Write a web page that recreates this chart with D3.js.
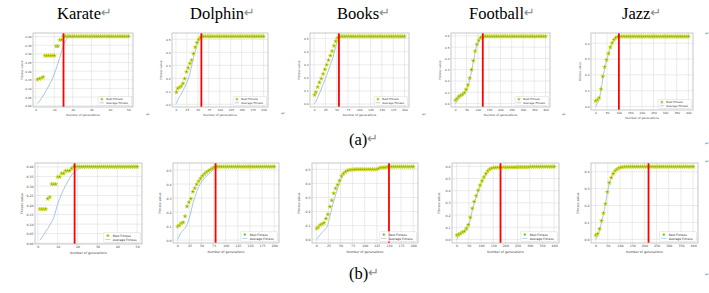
<!DOCTYPE html>
<html>
<head>
<meta charset="utf-8">
<script src="https://cdn.jsdelivr.net/npm/d3@7"></script>
<style>
body{margin:0;background:#fff}
</style>
</head>
<body>
<svg id="fig" width="709" height="293"></svg>
<script>
// generation numbers sampled for the markers
var gen50 = [1,2,3,4,5,6,7,8,9,10,11,12,13,14,15,16,17,18,19,20,21,22,23,24,25,26,27,28,29,30,
  31,32,33,34,35,36,37,38,39,40,41,42,43,44,45,46,47,48,49,50];
var gen200 = [1,4,8,12,16,20,24,28,32,36,40,44,48,52,56,60,64,68,72,76,80,84,88,92,96,100,
  104,108,112,116,120,124,128,132,136,140,144,148,152,156,160,164,168,172,176,180,184,188,192,196,200];
var gen400 = [1,8,16,24,32,40,48,56,64,72,80,88,96,104,112,120,128,136,144,152,160,168,176,184,192,200,
  208,216,224,232,240,248,256,264,272,280,288,296,304,312,320,328,336,344,352,360,368,376,384,392,400];

var titles = ["Karate", "Dolphin", "Books", "Football", "Jazz"];

// tick labels
var ticks50 = [0,10,20,30,40,50];
var ticks200 = [0,25,50,75,100,125,150,175,200];
var ticks400 = [0,50,100,150,200,250,300,350,400];
var karateTicksY = [0,0.05,0.10,0.15,0.20,0.25,0.30,0.35,0.40];
var dolphinTicksY = [0,0.1,0.2,0.3,0.4,0.5];
var booksTicksY = [0,0.1,0.2,0.3,0.4,0.5];
var footballTicksY = [0,0.1,0.2,0.3,0.4,0.5,0.6];
var jazzTicksY = [0,0.1,0.2,0.3,0.4];

// (a) row
var karateABest = [0.152,0.156,0.160,0.166,0.290,0.290,0.290,0.290,0.290,0.290,
  0.345,0.345,0.381,0.381,0.4013,0.4013,0.4013,0.4013,0.4013,0.4013,
  0.4013,0.4013,0.4013,0.4013,0.4013,0.4013,0.4013,0.4013,0.4013,0.4013,
  0.4013,0.4013,0.4013,0.4013,0.4013,0.4013,0.4013,0.4013,0.4013,0.4013,
  0.4013,0.4013,0.4013,0.4013,0.4013,0.4013,0.4013,0.4013,0.4013,0.4013];
var karateAAvg = [0.012,0.025,0.040,0.058,0.076,0.095,0.114,0.134,0.157,0.183,
  0.212,0.245,0.279,0.316,0.350,0.375,0.390,0.397,0.400,0.401,
  0.4013,0.4013,0.4013,0.4013,0.4013,0.4013,0.4013,0.4013,0.4013,0.4013,
  0.4013,0.4013,0.4013,0.4013,0.4013,0.4013,0.4013,0.4013,0.4013,0.4013,
  0.4013,0.4013,0.4013,0.4013,0.4013,0.4013,0.4013,0.4013,0.4013,0.4013];
var karateAStop = 15;

var dolphinABest = [0.093,0.122,0.130,0.140,0.160,0.198,0.250,0.280,0.315,0.340,
  0.390,0.440,0.475,0.500,0.515,0.522,0.5232,0.5232,0.5232,0.5232,
  0.5232,0.5232,0.5232,0.5232,0.5232,0.5232,0.5232,0.5232,0.5232,0.5232,
  0.5232,0.5232,0.5232,0.5232,0.5232,0.5232,0.5232,0.5232,0.5232,0.5232,
  0.5232,0.5232,0.5232,0.5232,0.5232,0.5232,0.5232,0.5232,0.5232,0.5232,
  0.5232];
var dolphinAAvg = [0.005,0.030,0.058,0.080,0.105,0.130,0.160,0.195,0.240,0.300,
  0.360,0.410,0.455,0.490,0.508,0.517,0.521,0.523,0.5232,0.5232,
  0.5232,0.5232,0.5232,0.5232,0.5232,0.5232,0.5232,0.5232,0.5232,0.5232,
  0.5232,0.5232,0.5232,0.5232,0.5232,0.5232,0.5232,0.5232,0.5232,0.5232,
  0.5232,0.5232,0.5232,0.5232,0.5232,0.5232,0.5232,0.5232,0.5232,0.5232,
  0.5232];
var dolphinAStop = 58;

var booksABest = [0.070,0.090,0.130,0.165,0.195,0.230,0.265,0.300,0.335,0.370,
  0.405,0.445,0.480,0.505,0.516,0.5175,0.5175,0.5175,0.5175,0.5175,
  0.5175,0.5175,0.5175,0.5175,0.5175,0.5175,0.5175,0.5175,0.5175,0.5175,
  0.5175,0.5175,0.5175,0.5175,0.5175,0.5175,0.5175,0.5175,0.5175,0.5175,
  0.5175,0.5175,0.5175,0.5175,0.5175,0.5175,0.5175,0.5175,0.5175,0.5175,
  0.5175];
var booksAAvg = [0.003,0.020,0.050,0.080,0.115,0.150,0.185,0.220,0.260,0.300,
  0.335,0.385,0.440,0.485,0.508,0.515,0.5175,0.5175,0.5175,0.5175,
  0.5175,0.5175,0.5175,0.5175,0.5175,0.5175,0.5175,0.5175,0.5175,0.5175,
  0.5175,0.5175,0.5175,0.5175,0.5175,0.5175,0.5175,0.5175,0.5175,0.5175,
  0.5175,0.5175,0.5175,0.5175,0.5175,0.5175,0.5175,0.5175,0.5175,0.5175,
  0.5175];
var booksAStop = 55;

var footballABest = [0.030,0.045,0.063,0.072,0.082,0.098,0.125,0.165,0.225,0.300,
  0.380,0.465,0.525,0.560,0.583,0.593,0.5955,0.5955,0.5955,0.5955,
  0.5955,0.5955,0.5955,0.5955,0.5955,0.5955,0.5955,0.5955,0.5955,0.5955,
  0.5955,0.5955,0.5955,0.5955,0.5955,0.5955,0.5955,0.5955,0.5955,0.5955,
  0.5955,0.5955,0.5955,0.5955,0.5955,0.5955,0.5955,0.5955,0.5955,0.5955,
  0.5955];
var footballAAvg = [0.000,0.025,0.045,0.060,0.070,0.085,0.110,0.150,0.210,0.285,
  0.365,0.450,0.515,0.553,0.578,0.590,0.594,0.5955,0.5955,0.5955,
  0.5955,0.5955,0.5955,0.5955,0.5955,0.5955,0.5955,0.5955,0.5955,0.5955,
  0.5955,0.5955,0.5955,0.5955,0.5955,0.5955,0.5955,0.5955,0.5955,0.5955,
  0.5955,0.5955,0.5955,0.5955,0.5955,0.5955,0.5955,0.5955,0.5955,0.5955,
  0.5955];
var footballAStop = 122;

var jazzABest = [0.035,0.042,0.055,0.110,0.190,0.250,0.295,0.335,0.375,0.402,
  0.422,0.435,0.441,0.4426,0.4426,0.4426,0.4426,0.4426,0.4426,0.4426,
  0.4426,0.4426,0.4426,0.4426,0.4426,0.4426,0.4426,0.4426,0.4426,0.4426,
  0.4426,0.4426,0.4426,0.4426,0.4426,0.4426,0.4426,0.4426,0.4426,0.4426,
  0.4426,0.4426,0.4426,0.4426,0.4426,0.4426,0.4426,0.4426,0.4426,0.4426,
  0.4426];
var jazzAAvg = [0.000,0.020,0.045,0.100,0.180,0.240,0.288,0.330,0.370,0.398,
  0.418,0.432,0.439,0.442,0.4426,0.4426,0.4426,0.4426,0.4426,0.4426,
  0.4426,0.4426,0.4426,0.4426,0.4426,0.4426,0.4426,0.4426,0.4426,0.4426,
  0.4426,0.4426,0.4426,0.4426,0.4426,0.4426,0.4426,0.4426,0.4426,0.4426,
  0.4426,0.4426,0.4426,0.4426,0.4426,0.4426,0.4426,0.4426,0.4426,0.4426,
  0.4426];
var jazzAStop = 101;

// (b) row
var karateBBest = [0.179,0.179,0.179,0.179,0.233,0.242,0.310,0.310,0.310,0.348,
  0.348,0.366,0.366,0.380,0.380,0.380,0.392,0.4013,0.4013,0.4013,
  0.4013,0.4013,0.4013,0.4013,0.4013,0.4013,0.4013,0.4013,0.4013,0.4013,
  0.4013,0.4013,0.4013,0.4013,0.4013,0.4013,0.4013,0.4013,0.4013,0.4013,
  0.4013,0.4013,0.4013,0.4013,0.4013,0.4013,0.4013,0.4013,0.4013,0.4013];
var karateBAvg = [0.015,0.030,0.045,0.062,0.077,0.095,0.113,0.134,0.170,0.206,
  0.234,0.260,0.282,0.303,0.322,0.340,0.358,0.370,0.380,0.387,
  0.393,0.398,0.400,0.401,0.4013,0.4013,0.4013,0.4013,0.4013,0.4013,
  0.4013,0.4013,0.4013,0.4013,0.4013,0.4013,0.4013,0.4013,0.4013,0.4013,
  0.4013,0.4013,0.4013,0.4013,0.4013,0.4013,0.4013,0.4013,0.4013,0.4013];
var karateBStop = 18.5;

var dolphinBBest = [0.098,0.105,0.120,0.126,0.170,0.240,0.270,0.295,0.345,0.370,
  0.398,0.420,0.440,0.458,0.472,0.485,0.494,0.502,0.512,0.520,
  0.5244,0.5244,0.5244,0.5244,0.5244,0.5244,0.5244,0.5244,0.5244,0.5244,
  0.5244,0.5244,0.5244,0.5244,0.5244,0.5244,0.5244,0.5244,0.5244,0.5244,
  0.5244,0.5244,0.5244,0.5244,0.5244,0.5244,0.5244,0.5244,0.5244,0.5244,
  0.5244];
var dolphinBAvg = [0.005,0.030,0.055,0.070,0.085,0.110,0.150,0.200,0.260,0.305,
  0.345,0.380,0.405,0.425,0.442,0.456,0.468,0.482,0.495,0.507,
  0.514,0.519,0.522,0.523,0.524,0.5244,0.5244,0.5244,0.5244,0.5244,
  0.5244,0.5244,0.5244,0.5244,0.5244,0.5244,0.5244,0.5244,0.5244,0.5244,
  0.5244,0.5244,0.5244,0.5244,0.5244,0.5244,0.5244,0.5244,0.5244,0.5244,
  0.5244];
var dolphinBStop = 79;

var booksBBest = [0.080,0.090,0.106,0.113,0.120,0.150,0.180,0.235,0.280,0.330,
  0.365,0.390,0.420,0.452,0.470,0.482,0.491,0.495,0.497,0.498,
  0.499,0.500,0.500,0.500,0.500,0.500,0.500,0.500,0.500,0.500,
  0.500,0.500,0.505,0.512,0.513,0.513,0.515,0.518,0.519,0.519,
  0.519,0.519,0.519,0.519,0.519,0.519,0.519,0.519,0.519,0.519,
  0.519];
var booksBAvg = [0.003,0.018,0.036,0.052,0.066,0.080,0.110,0.165,0.225,0.275,
  0.322,0.365,0.405,0.437,0.460,0.475,0.486,0.492,0.496,0.498,
  0.499,0.499,0.499,0.499,0.499,0.499,0.499,0.499,0.499,0.499,
  0.499,0.499,0.503,0.508,0.511,0.512,0.514,0.516,0.518,0.519,
  0.519,0.519,0.519,0.519,0.519,0.519,0.519,0.519,0.519,0.519,
  0.519];
var booksBStop = 150;

var footballBBest = [0.035,0.040,0.048,0.060,0.068,0.090,0.120,0.180,0.255,0.310,
  0.358,0.402,0.445,0.480,0.512,0.540,0.562,0.577,0.585,0.589,
  0.590,0.591,0.592,0.592,0.593,0.593,0.593,0.593,0.593,0.593,
  0.593,0.595,0.595,0.595,0.595,0.595,0.595,0.595,0.598,0.598,
  0.598,0.598,0.598,0.598,0.598,0.598,0.598,0.598,0.598,0.598,
  0.598];
var footballBAvg = [0.000,0.025,0.038,0.050,0.058,0.075,0.105,0.160,0.235,0.295,
  0.345,0.390,0.435,0.472,0.505,0.533,0.556,0.572,0.582,0.587,
  0.589,0.590,0.591,0.592,0.593,0.593,0.593,0.593,0.593,0.593,
  0.593,0.594,0.594,0.594,0.594,0.594,0.594,0.594,0.597,0.597,
  0.597,0.597,0.597,0.597,0.597,0.597,0.597,0.597,0.597,0.597,
  0.597];
var footballBStop = 180;

var jazzBBest = [0.025,0.033,0.062,0.110,0.155,0.210,0.280,0.335,0.365,0.388,
  0.405,0.415,0.422,0.426,0.428,0.429,0.430,0.430,0.430,0.430,
  0.430,0.430,0.430,0.430,0.430,0.430,0.430,0.430,0.430,0.430,
  0.430,0.430,0.430,0.430,0.430,0.430,0.430,0.430,0.430,0.430,
  0.430,0.430,0.430,0.430,0.430,0.430,0.430,0.430,0.430,0.430,
  0.430];
var jazzBAvg = [0.000,0.020,0.050,0.100,0.148,0.205,0.272,0.328,0.360,0.385,
  0.402,0.413,0.420,0.425,0.428,0.429,0.430,0.430,0.430,0.430,
  0.430,0.430,0.430,0.430,0.430,0.430,0.430,0.430,0.430,0.430,
  0.430,0.430,0.430,0.430,0.430,0.430,0.430,0.430,0.430,0.430,
  0.430,0.430,0.430,0.430,0.430,0.430,0.430,0.430,0.430,0.430,
  0.430];
var jazzBStop = 217;

var svg = d3.select("#fig");
var markColor = "#8a8a8a";

// panel boxes are [left, top, right, bottom] of the axes frame
var panels = [
  {box:[33,33,133,107], gens:gen50, best:karateABest, avg:karateAAvg, xt:ticks50, yt:karateTicksY, fmt:".2f", stop:karateAStop, fs:2.9},
  {box:[172,33,268,107], gens:gen200, best:dolphinABest, avg:dolphinAAvg, xt:ticks200, yt:dolphinTicksY, fmt:".1f", stop:dolphinAStop, fs:2.9},
  {box:[310,33,409,107], gens:gen200, best:booksABest, avg:booksAAvg, xt:ticks200, yt:booksTicksY, fmt:".1f", stop:booksAStop, fs:2.9},
  {box:[451,33,550,107], gens:gen400, best:footballABest, avg:footballAAvg, xt:ticks400, yt:footballTicksY, fmt:".1f", stop:footballAStop, fs:2.9},
  {box:[591,33,693,110], gens:gen400, best:jazzABest, avg:jazzAAvg, xt:ticks400, yt:jazzTicksY, fmt:".1f", stop:jazzAStop, fs:2.9},
  {box:[35,163,142,244], gens:gen50, best:karateBBest, avg:karateBAvg, xt:ticks50, yt:karateTicksY, fmt:".2f", stop:karateBStop, fs:3.2},
  {box:[173,163,279,243], gens:gen200, best:dolphinBBest, avg:dolphinBAvg, xt:ticks200, yt:dolphinTicksY, fmt:".1f", stop:dolphinBStop, fs:3.2},
  {box:[312,163,418,243], gens:gen200, best:booksBBest, avg:booksBAvg, xt:ticks200, yt:booksTicksY, fmt:".1f", stop:booksBStop, fs:3.2},
  {box:[452,163,559,243], gens:gen400, best:footballBBest, avg:footballBAvg, xt:ticks400, yt:footballTicksY, fmt:".1f", stop:footballBStop, fs:3.2},
  {box:[591,163,698,243], gens:gen400, best:jazzBBest, avg:jazzBAvg, xt:ticks400, yt:jazzTicksY, fmt:".1f", stop:jazzBStop, fs:3.2}
];

function padded(vals){
  var e = d3.extent(vals), p = (e[1] - e[0]) * 0.05;
  return [e[0] - p, e[1] + p];
}

function drawPanel(p){
  var x0 = p.box[0], y0 = p.box[1], x1 = p.box[2], y1 = p.box[3];
  var g = svg.append("g");
  var x = d3.scaleLinear().domain(padded(p.gens)).range([x0, x1]);
  var y = d3.scaleLinear().domain(padded(p.best.concat(p.avg))).range([y1, y0]);

  //grid
  g.selectAll(".gx").data(p.xt).enter().append("line")
    .attr("x1", function(d){ return x(d); }).attr("x2", function(d){ return x(d); })
    .attr("y1", y0).attr("y2", y1)
    .attr("stroke", "#dedede").attr("stroke-width", 0.6);
  g.selectAll(".gy").data(p.yt).enter().append("line")
    .attr("y1", function(d){ return y(d); }).attr("y2", function(d){ return y(d); })
    .attr("x1", x0).attr("x2", x1)
    .attr("stroke", "#dedede").attr("stroke-width", 0.6);

  //average fitness
  var line = d3.line()
    .x(function(d){ return x(d[0]); })
    .y(function(d){ return y(d[1]); })
    .curve(d3.curveMonotoneX);
  g.append("path")
    .datum(p.avg.map(function(v, i){ return [p.gens[i], v]; }))
    .attr("fill", "none")
    .attr("stroke", "#a3c8e3")
    .attr("stroke-width", 1)
    .attr("d", line);

  //best fitness
  var star = d3.symbol().type(d3.symbolStar).size(5);
  g.selectAll(".pt").data(p.gens).enter().append("path")
    .attr("transform", function(d, i){ return "translate(" + x(d) + "," + y(p.best[i]) + ")"; })
    .attr("d", star)
    .attr("fill", "#4e9a2c")
    .attr("stroke", "#dede1e")
    .attr("stroke-width", 0.7);

  //stop generation
  g.append("line")
    .attr("x1", x(p.stop)).attr("x2", x(p.stop))
    .attr("y1", y0).attr("y2", y1)
    .attr("stroke", "#ff0000")
    .attr("stroke-width", 1.8);

  g.append("rect")
    .attr("x", x0).attr("y", y0)
    .attr("width", x1 - x0).attr("height", y1 - y0)
    .attr("fill", "none")
    .attr("stroke", "#b9b9b9")
    .attr("stroke-width", 0.8);

  var ax = g.append("g")
    .attr("transform", "translate(0," + y1 + ")")
    .call(d3.axisBottom(x).tickValues(p.xt).tickSize(0).tickPadding(1.6).tickFormat(d3.format("d")));
  var ay = g.append("g")
    .attr("transform", "translate(" + x0 + ",0)")
    .call(d3.axisLeft(y).tickValues(p.yt).tickSize(0).tickPadding(1.4).tickFormat(d3.format(p.fmt)));
  [ax, ay].forEach(function(a){
    a.select(".domain").remove();
    a.selectAll("text")
      .attr("font-family", "DejaVu Sans")
      .attr("font-size", p.fs)
      .attr("fill", "#444");
  });

  g.append("text")
    .attr("x", (x0 + x1) / 2).attr("y", y1 + p.fs * 3.2)
    .attr("text-anchor", "middle")
    .attr("font-family", "DejaVu Sans").attr("font-size", p.fs).attr("fill", "#444")
    .text("Number of generations");
  g.append("text")
    .attr("transform", "translate(" + (x0 - p.fs * 3.6) + "," + (y0 + y1) / 2 + ") rotate(-90)")
    .attr("text-anchor", "middle")
    .attr("font-family", "DejaVu Sans").attr("font-size", p.fs).attr("fill", "#444")
    .text("Fitness value");

  //legend
  var lw = p.fs * 11.5, lh = p.fs * 3.1;
  var lx = x1 - 1.5 - lw, ly = y1 - 1.5 - lh;
  g.append("rect")
    .attr("x", lx).attr("y", ly).attr("width", lw).attr("height", lh)
    .attr("rx", 0.8)
    .attr("fill", "#fff").attr("fill-opacity", 0.85)
    .attr("stroke", "#d0d0d0").attr("stroke-width", 0.4);
  g.append("path")
    .attr("transform", "translate(" + (lx + p.fs * 1.3) + "," + (ly + lh * 0.3) + ")")
    .attr("d", d3.symbol().type(d3.symbolStar).size(3))
    .attr("fill", "#4e9a2c").attr("stroke", "#dede1e").attr("stroke-width", 0.4);
  g.append("line")
    .attr("x1", lx + p.fs * 0.5).attr("x2", lx + p.fs * 2.1)
    .attr("y1", ly + lh * 0.7).attr("y2", ly + lh * 0.7)
    .attr("stroke", "#a3c8e3").attr("stroke-width", 0.8);
  [["Best Fitness", 0.3], ["Average Fitness", 0.7]].forEach(function(r){
    g.append("text")
      .attr("x", lx + p.fs * 2.8).attr("y", ly + lh * r[1])
      .attr("dy", "0.35em")
      .attr("font-family", "DejaVu Sans").attr("font-size", p.fs * 0.95).attr("fill", "#333")
      .text(r[0]);
  });
}

panels.forEach(drawPanel);

// column titles
var titleX = [57, 190, 337, 469, 622];
titles.forEach(function(t, i){
  var tx = svg.append("text")
    .attr("x", titleX[i]).attr("y", 18.5)
    .attr("font-family", "'Liberation Serif', 'Times New Roman', serif")
    .attr("font-size", 16.5).attr("fill", "#000")
    .text(t);
  tx.append("tspan")
    .attr("dy", -2).attr("font-family", "DejaVu Sans").attr("font-size", 13).attr("fill", markColor)
    .text("\u21B5");
});

[["(a)", 349, 145], ["(b)", 349, 279]].forEach(function(c){
  var tx = svg.append("text")
    .attr("x", c[1]).attr("y", c[2])
    .attr("font-family", "'Liberation Serif', 'Times New Roman', serif")
    .attr("font-size", 16.5).attr("fill", "#000")
    .text(c[0]);
  tx.append("tspan")
    .attr("dy", -2).attr("font-family", "DejaVu Sans").attr("font-size", 13).attr("fill", markColor)
    .text("\u21B5");
});

// small paragraph marks of the empty table cells
var marks = [[146,116],[281,115],[422,116],[562,116],[705,35],[705,145],[705,163],[705,276]];
marks.forEach(function(m){
  svg.append("text")
    .attr("x", m[0]).attr("y", m[1])
    .attr("font-family", "DejaVu Sans").attr("font-size", 5).attr("fill", markColor)
    .text("\u21B5");
});
</script>
</body>
</html>
